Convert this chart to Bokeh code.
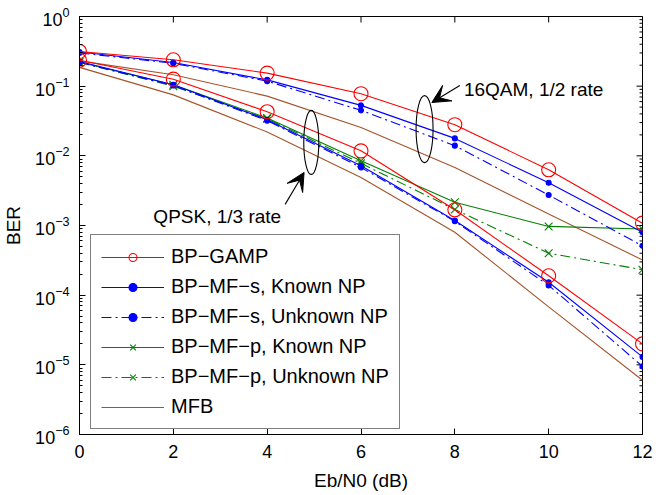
import math
from bokeh.plotting import figure
from bokeh.models import (Legend, LegendItem, FixedTicker, LogTicker,
                          Range1d, Label, Arrow, VeeHead)
from bokeh.embed import file_html
from bokeh.resources import INLINE

# ---------------- data ----------------
ebn0 = [0, 2, 4, 6, 8, 10, 12]
xticks = [0, 2, 4, 6, 8, 10, 12]

# 16QAM, 1/2 rate
qam_gamp = [0.315, 0.239, 0.154, 0.078, 0.028, 0.0063, 0.00108]
qam_mfs_known = [0.31, 0.219, 0.123, 0.053, 0.0178, 0.0041, 0.0008]
qam_mfs_unknown = [0.30, 0.213, 0.118, 0.045, 0.014, 0.00274, 0.00051]
qam_mfb = [0.231, 0.146, 0.072, 0.0255, 0.0068, 0.00146, 0.00032]

# QPSK, 1/3 rate
qpsk_gamp = [0.236, 0.126, 0.043, 0.0118, 0.00168, 0.00019, 2.0e-5]
qpsk_mfs_known = [0.226, 0.105, 0.033, 0.0072, 0.00118, 0.000153, 1.3e-5]
qpsk_mfs_unknown = [0.22, 0.102, 0.032, 0.0068, 0.00115, 0.000138, 9.5e-6]
qpsk_mfp_known = [0.22, 0.105, 0.035, 0.0085, 0.00215, 0.00097, 0.00089]
qpsk_mfp_unknown = [0.22, 0.10, 0.034, 0.0078, 0.0017, 0.0004, 0.000232]
qpsk_mfb = [0.186, 0.075, 0.022, 0.0049, 0.0008, 6.8e-5, 6e-6]

labels = ["BP\u2212GAMP", "BP\u2212MF\u2212s, Known NP", "BP\u2212MF\u2212s, Unknown NP",
          "BP\u2212MF\u2212p, Known NP", "BP\u2212MF\u2212p, Unknown NP", "MFB"]

# ---------------- styles ----------------
RED = "#FF0000"
BLUE = "#0000FF"
GREEN = "#008000"
BROWN = "#A5542A"
FONT = "Liberation Sans"
DASHDOT = "10 4 2 4"

p = figure(frame_width=563, frame_height=418,
           x_range=Range1d(0, 12), y_range=Range1d(1e-6, 1),
           y_axis_type="log", output_backend="svg", toolbar_location=None,
           min_border_left=74, min_border_right=13, min_border_top=16, min_border_bottom=53)
p.background_fill_color = "white"
p.border_fill_color = "white"
p.xgrid.visible = False
p.ygrid.visible = False
p.outline_line_color = "black"
p.outline_line_width = 1

# axes
p.xaxis.ticker = FixedTicker(ticks=xticks)
p.yaxis.ticker = LogTicker(num_minor_ticks=10)
for ax in (p.xaxis[0], p.yaxis[0]):
    ax.major_tick_in = 6
    ax.major_tick_out = 0
    ax.minor_tick_in = 3
    ax.minor_tick_out = 0
    ax.axis_line_color = "black"
    ax.major_tick_line_color = "black"
    ax.minor_tick_line_color = "black"
    ax.major_label_text_font = FONT
    ax.major_label_text_font_size = "18px"
    ax.major_label_text_color = "black"
    ax.axis_label_text_font = FONT
    ax.axis_label_text_font_size = "19px"
    ax.axis_label_text_font_style = "normal"
    ax.axis_label_text_color = "black"
p.xaxis.axis_label = "Eb/N0 (dB)"
p.yaxis.axis_label = "BER"
p.xaxis.major_label_standoff = 10
p.xaxis.axis_label_standoff = 9
p.yaxis.major_label_standoff = 10
p.yaxis.axis_label_standoff = 8

# box ticks on the top and right edges (MATLAB "box on")
top_y = [1.0] * len(xticks)
p.ray(x=xticks, y=top_y, length=6, length_units="screen", angle=-math.pi / 2,
      line_color="black", line_width=1)
right_major = [10.0 ** k for k in range(-6, 1)]
right_minor = [m * 10.0 ** k for k in range(-6, 0) for m in range(2, 10)]
p.ray(x=[12] * len(right_major), y=right_major, length=6, length_units="screen",
      angle=math.pi, line_color="black", line_width=1)
p.ray(x=[12] * len(right_minor), y=right_minor, length=3, length_units="screen",
      angle=math.pi, line_color="black", line_width=1)

LW = 1.1

def series(y, color, dash, marker, size, fill):
    lr = p.line(ebn0, y, line_color=color, line_width=LW, line_dash=dash)
    if marker is None:
        return [lr]
    mr = p.scatter(ebn0, y, marker=marker, size=size, line_color=color,
                   fill_color=fill, line_width=LW)
    return [lr, mr]

# MFB first (underneath)
r_mfb = series(qam_mfb, BROWN, "solid", None, 0, None)
series(qpsk_mfb, BROWN, "solid", None, 0, None)
r_mfp_u = series(qpsk_mfp_unknown, GREEN, DASHDOT, "x", 11, None)
r_mfp_k = series(qpsk_mfp_known, GREEN, "solid", "x", 11, None)
r_mfs_u = series(qam_mfs_unknown, BLUE, DASHDOT, "circle", 5, BLUE)
series(qpsk_mfs_unknown, BLUE, DASHDOT, "circle", 5, BLUE)
r_mfs_k = series(qam_mfs_known, BLUE, "solid", "circle", 5, BLUE)
series(qpsk_mfs_known, BLUE, "solid", "circle", 5, BLUE)
r_gamp = series(qam_gamp, RED, "solid", "circle", 14, None)
series(qpsk_gamp, RED, "solid", "circle", 14, None)

# annotations: ellipses, arrows, texts
p.ellipse(x=[4.94], y=[0.0156], width=15, height=64, width_units="screen",
          height_units="screen", fill_color=None, line_color="black", line_width=1.1)
p.ellipse(x=[7.355], y=[0.0242], width=17, height=67, width_units="screen",
          height_units="screen", fill_color=None, line_color="black", line_width=1.1)
p.add_layout(Arrow(x_start=4.383, y_start=0.00201, x_end=4.787, y_end=0.00578,
                   line_color="black", line_width=1.1,
                   end=VeeHead(size=18, fill_color="black", line_color="black")))
p.add_layout(Arrow(x_start=8.106, y_start=0.102, x_end=7.51, y_end=0.0583,
                   line_color="black", line_width=1.1,
                   end=VeeHead(size=18, fill_color="black", line_color="black")))
p.add_layout(Label(x=2.936, y=0.00135, text="QPSK, 1/3 rate", text_align="center",
                   text_baseline="middle", text_font=FONT, text_font_size="19px",
                   text_color="black"))
p.add_layout(Label(x=9.68, y=0.0897, text="16QAM, 1/2 rate", text_align="center",
                   text_baseline="middle", text_font=FONT, text_font_size="19px",
                   text_color="black"))

legend = Legend(items=[
    LegendItem(label=labels[0], renderers=r_gamp),
    LegendItem(label=labels[1], renderers=r_mfs_k),
    LegendItem(label=labels[2], renderers=r_mfs_u),
    LegendItem(label=labels[3], renderers=r_mfp_k),
    LegendItem(label=labels[4], renderers=r_mfp_u),
    LegendItem(label=labels[5], renderers=r_mfb),
], location=(11, 5), margin=0, padding=10, spacing=7,
    glyph_width=63, glyph_height=20, label_height=20, label_standoff=7,
    label_text_font=FONT, label_text_font_size="20px", label_text_color="black",
    border_line_color="black", border_line_width=1,
    background_fill_color="white", background_fill_alpha=1)
p.add_layout(legend)

open("out.html", "w").write(file_html(p, INLINE))
